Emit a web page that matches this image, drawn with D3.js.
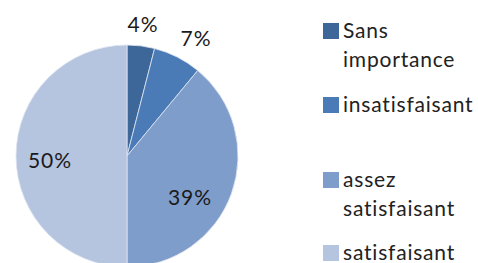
<!DOCTYPE html>
<html><head><meta charset="utf-8">
<script src="https://cdn.jsdelivr.net/npm/d3@7"></script>
<style>html,body{margin:0;padding:0;background:#fff;}svg{display:block;}</style>
</head><body>
<svg id="c" width="478" height="263"></svg>
<script>
const categories = ["Sans importance", "insatisfaisant", "assez satisfaisant", "satisfaisant"];
const values = [4, 7, 39, 50];
const labels = ["4%", "7%", "39%", "50%"];
const colors = ["#3d6699", "#4a7bb6", "#7e9dca", "#b5c4df"];
const legendLines = [["Sans", "importance"], ["insatisfaisant"], ["assez", "satisfaisant"], ["satisfaisant"]];

const svg = d3.select("#c");
const cx = 127, cy = 156, r = 111;
const font = "Lato, 'Open Sans', sans-serif";

const pie = d3.pie().sort(null).value(d => d)(values);
const arc = d3.arc().innerRadius(0).outerRadius(r);
const g = svg.append("g").attr("transform", `translate(${cx},${cy})`);
g.selectAll("path").data(pie).join("path")
  .attr("d", arc).attr("fill", (d, i) => colors[i])
  .attr("stroke", "#dfe6f1").attr("stroke-width", 0.8);

const labelPos = [
  {x: 143, y: 32}, {x: 196, y: 46}, {x: 190, y: 205}, {x: 50, y: 168}
];
svg.selectAll("text.lbl").data(labels).join("text")
  .attr("class", "lbl")
  .attr("x", (d, i) => labelPos[i].x).attr("y", (d, i) => labelPos[i].y)
  .attr("text-anchor", "middle")
  .attr("font-family", font).attr("font-size", 21).attr("letter-spacing", 1)
  .attr("fill", "#1a1a1a").text(d => d);

const legendY = [39, 113, 188, 261];
const lg = svg.append("g");
categories.forEach((c, i) => {
  lg.append("rect").attr("x", 323).attr("y", legendY[i] - 16)
    .attr("width", 16).attr("height", 16).attr("fill", colors[i]);
  legendLines[i].forEach((t, j) => {
    lg.append("text").attr("x", 343).attr("y", legendY[i] - 1 + j * 29)
      .attr("font-family", font).attr("font-size", 21).attr("letter-spacing", 0.8)
      .attr("fill", "#222").text(t);
  });
});
</script>
</body></html>
